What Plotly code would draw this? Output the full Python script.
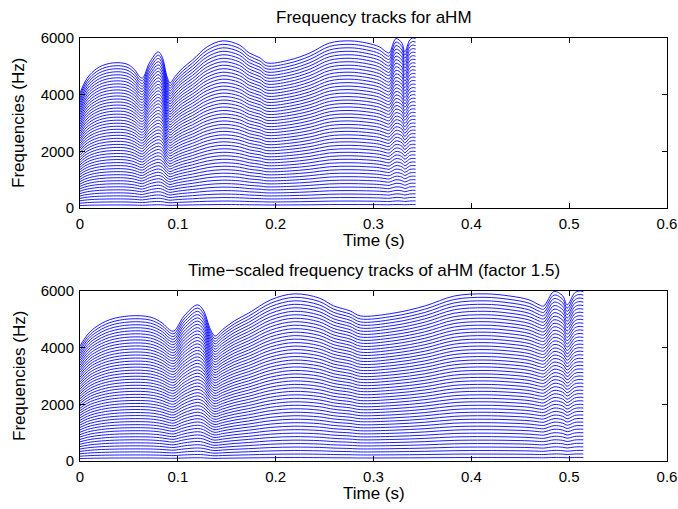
import plotly.graph_objects as go

# Fundamental frequency contour (top track / harmonic count)
times_s = [0.000, 0.005, 0.010, 0.020, 0.034, 0.048, 0.056, 0.061, 0.064, 0.071,
           0.080, 0.084, 0.089, 0.092, 0.097, 0.105, 0.115, 0.130, 0.146, 0.163,
           0.173, 0.184, 0.191, 0.214, 0.235, 0.255, 0.276, 0.293, 0.306, 0.313,
           0.316, 0.323, 0.329, 0.332, 0.337, 0.340, 0.343]
f0_hz = [84.6, 92.7, 97.9, 103.8, 106.7, 105.8, 101.5, 96.5, 95.6, 106.7,
         114.8, 111.0, 96.5, 91.9, 96.5, 102.9, 108.8, 118.5, 122.9, 119.8,
         114.0, 110.4, 106.7, 108.8, 114.0, 121.3, 122.9, 121.3, 118.5, 114.8,
         114.0, 124.6, 121.3, 114.8, 123.5, 125.0, 124.6]
harmonic_numbers = list(range(1, 49))
time_scale_factor = 1.5

x_ticks = [0, 0.1, 0.2, 0.3, 0.4, 0.5, 0.6]
x_tick_text = ["0", "0.1", "0.2", "0.3", "0.4", "0.5", "0.6"]
y_ticks = [0, 2000, 4000, 6000]
y_tick_text = ["0", "2000", "4000", "6000"]

title_top = "Frequency tracks for aHM"
title_bottom = "Time\u2212scaled frequency tracks of aHM (factor 1.5)"
x_label = "Time (s)"
y_label = "Frequencies (Hz)"

FONT = "Liberation Sans, Arial, Helvetica, sans-serif"
FS_TICK = 15
FS_LABEL = 17
BLUE = "#0000ff"

fig = go.Figure()
for k in harmonic_numbers:
    yk = [k * f for f in f0_hz]
    fig.add_trace(go.Scatter(x=times_s, y=yk, mode="lines", xaxis="x", yaxis="y",
                             line=dict(color=BLUE, width=0.9, shape="spline", smoothing=1.0),
                             hoverinfo="skip", showlegend=False))
    fig.add_trace(go.Scatter(x=[t * time_scale_factor for t in times_s], y=yk, mode="lines",
                             xaxis="x2", yaxis="y2",
                             line=dict(color=BLUE, width=0.9, shape="spline", smoothing=1.0),
                             hoverinfo="skip", showlegend=False))

W, H = 678, 509
ml, mr, mt, mb = 80, 11, 38, 48
ph = H - mt - mb

def py(ypx):
    return (H - mb - ypx) / ph

top_dom = [py(208), py(38)]
bot_dom = [py(461), py(291)]

axis_common = dict(showline=True, linecolor="black", linewidth=1, mirror="allticks",
                   ticks="inside", ticklen=5, tickcolor="black", showgrid=False,
                   zeroline=False, automargin=False, ticklabeloverflow="allow",
                   tickfont=dict(family=FONT, size=FS_TICK, color="black"))

lab_font = dict(family=FONT, size=FS_LABEL, color="black")
annotations = []
for dom, ttl in ((top_dom, title_top), (bot_dom, title_bottom)):
    annotations.append(dict(text=ttl, xref="paper", yref="paper", x=0.5, y=dom[1], yshift=21,
                            xanchor="center", yanchor="middle", showarrow=False, font=lab_font))
    annotations.append(dict(text=x_label, xref="paper", yref="paper", x=0.5, y=dom[0], yshift=-32,
                            xanchor="center", yanchor="middle", showarrow=False, font=lab_font))
    annotations.append(dict(text=y_label, xref="paper", yref="paper", x=0, xshift=-61,
                            y=(dom[0] + dom[1]) / 2, textangle=-90,
                            xanchor="center", yanchor="middle", showarrow=False, font=lab_font))

fig.update_layout(
    width=W, height=H,
    margin=dict(l=ml, r=mr, t=mt, b=mb),
    paper_bgcolor="white", plot_bgcolor="white",
    font=dict(family=FONT, size=FS_TICK, color="black"),
    xaxis=dict(domain=[0, 1], anchor="y", range=[0, 0.6], tickvals=x_ticks, ticktext=x_tick_text,
               ticklabelstandoff=2, **axis_common),
    yaxis=dict(domain=top_dom, anchor="x", range=[0, 6000], tickvals=y_ticks, ticktext=y_tick_text,
               ticklabelstandoff=2, **axis_common),
    xaxis2=dict(domain=[0, 1], anchor="y2", range=[0, 0.6], tickvals=x_ticks, ticktext=x_tick_text,
                ticklabelstandoff=2, **axis_common),
    yaxis2=dict(domain=bot_dom, anchor="x2", range=[0, 6000], tickvals=y_ticks, ticktext=y_tick_text,
                ticklabelstandoff=2, **axis_common),
    annotations=annotations,
)

fig.write_html("out.html", config={"displayModeBar": False},
               post_script="document.body.style.margin='0';document.body.style.padding='0';")
